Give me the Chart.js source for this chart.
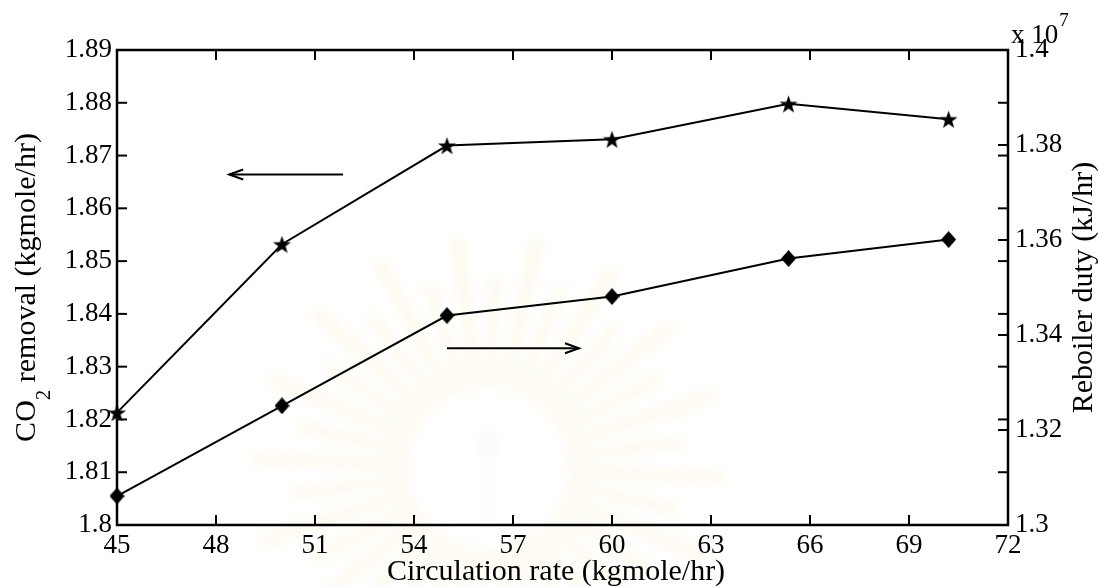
<!DOCTYPE html>
<html>
<head>
<meta charset="utf-8">
<script src="https://cdn.jsdelivr.net/npm/chart.js@4/dist/chart.umd.min.js"></script>
<style>
  html, body { margin: 0; padding: 0; background: #fff; }
  #wrap { width: 1098px; height: 586px; position: relative; }
</style>
</head>
<body>
<div id="wrap"><canvas id="c" width="1098" height="586"></canvas></div>
<script>
// Circulation rate (kgmole/hr)
const circulationRate = [45, 50, 55, 60, 65.35, 70.2];
// CO2 removal (kgmole/hr), left axis
const co2Removal = [1.8213, 1.8532, 1.8719, 1.8731, 1.8798, 1.8769];
// Reboiler duty in units of 10^7 kJ/hr, right axis
const reboilerDuty = [1.3061, 1.3251, 1.3441, 1.3481, 1.3561, 1.3601];

const xTicks = [45, 48, 51, 54, 57, 60, 63, 66, 69, 72];
const leftTicks = [1.8, 1.81, 1.82, 1.83, 1.84, 1.85, 1.86, 1.87, 1.88, 1.89];
const rightTicks = [1.3, 1.32, 1.34, 1.36, 1.38, 1.4];

// Direction arrows pointing at the axis each curve belongs to (data units, left axis)
const arrowToLeft = { from: [51.85, 1.8664], to: [48.4, 1.8664] };
const arrowToRight = { from: [55.0, 1.8335], to: [59.0, 1.8335] };

const SERIF = '"Liberation Serif", "Times New Roman", Times, serif';
Chart.defaults.font.family = SERIF;
Chart.defaults.color = '#000';

// Filled five-pointed star marker
function makeStar(r) {
  const s = Math.ceil(r * 2 + 2);
  const cv = document.createElement('canvas');
  cv.width = s; cv.height = s;
  const g = cv.getContext('2d');
  const c = s / 2, ri = r * 0.4;
  g.beginPath();
  for (let i = 0; i < 10; i++) {
    const rad = i % 2 === 0 ? r : ri;
    const a = -Math.PI / 2 + i * Math.PI / 5;
    const px = c + rad * Math.cos(a), py = c + rad * Math.sin(a) + r * 0.1;
    i === 0 ? g.moveTo(px, py) : g.lineTo(px, py);
  }
  g.closePath();
  g.fillStyle = '#000';
  g.fill();
  return cv;
}

// Filled diamond marker
function makeDiamond(w, h) {
  const cv = document.createElement('canvas');
  cv.width = w; cv.height = h;
  const g = cv.getContext('2d');
  g.beginPath();
  g.moveTo(w / 2, 0); g.lineTo(w, h / 2); g.lineTo(w / 2, h); g.lineTo(0, h / 2);
  g.closePath();
  g.fillStyle = '#000';
  g.fill();
  return cv;
}

const starMarker = makeStar(9.5);
const diamondMarker = makeDiamond(15, 17);

const pts = (xs, ys) => xs.map((x, i) => ({ x, y: ys[i] }));
const fixTicks = arr => scale => { scale.ticks = arr.map(v => ({ value: v })); };
const fmt = v => String(Number(v.toFixed(2)));

// Pale sunburst emblem printed behind the plot
const emblem = {
  id: 'emblem',
  beforeDraw(chart) {
    const ctx = chart.ctx;
    const cx = 488, cy = 468;
    ctx.save();
    ctx.filter = 'blur(6px)';
    const n = 36;
    for (let i = 0; i < n; i++) {
      const a = (i / n) * Math.PI * 2 + 0.04;
      const r0 = 80, r1 = i % 2 === 0 ? 235 : 195;
      const hw = 0.06;
      ctx.beginPath();
      ctx.moveTo(cx + r0 * Math.cos(a - hw), cy + r0 * Math.sin(a - hw));
      ctx.lineTo(cx + r1 * Math.cos(a - hw * 0.45), cy + r1 * Math.sin(a - hw * 0.45));
      ctx.lineTo(cx + r1 * Math.cos(a + hw * 0.45), cy + r1 * Math.sin(a + hw * 0.45));
      ctx.lineTo(cx + r0 * Math.cos(a + hw), cy + r0 * Math.sin(a + hw));
      ctx.closePath();
      ctx.fillStyle = 'rgba(246, 228, 170, 0.22)';
      ctx.fill();
    }
    ctx.fillStyle = 'rgba(215, 205, 185, 0.10)';
    ctx.beginPath(); ctx.arc(cx, cy - 25, 13, 0, Math.PI * 2); ctx.fill();
    ctx.fillRect(cx - 4, cy - 12, 8, 60);
    ctx.restore();
  }
};

// Box frame, inward tick marks, axis titles, arrows
const frame = {
  id: 'frame',
  afterDraw(chart) {
    const { ctx, chartArea: { left, right, top, bottom }, scales } = chart;
    const x = scales.x, y = scales.y, y1 = scales.y1;
    const seg = (a, b, c, d) => { ctx.beginPath(); ctx.moveTo(a, b); ctx.lineTo(c, d); ctx.stroke(); };
    ctx.save();
    ctx.strokeStyle = '#000';
    ctx.lineWidth = 2;
    const tl = 10;
    xTicks.forEach(v => {
      const px = x.getPixelForValue(v);
      seg(px, bottom, px, bottom - tl);
      seg(px, top, px, top + tl);
    });
    leftTicks.forEach(v => {
      const py = y.getPixelForValue(v);
      seg(left, py, left + tl, py);
      seg(right, py, right - tl, py);
    });
    rightTicks.forEach(v => {
      const py = y1.getPixelForValue(v);
      seg(right, py, right - tl, py);
    });
    ctx.lineWidth = 2.5;
    ctx.strokeRect(left, top, right - left, bottom - top);

    // arrows
    ctx.lineWidth = 2;
    const arrow = (a) => {
      const x0 = x.getPixelForValue(a.from[0]), y0 = y.getPixelForValue(a.from[1]);
      const x1 = x.getPixelForValue(a.to[0]), y1p = y.getPixelForValue(a.to[1]);
      seg(x0, y0, x1, y1p);
      const dir = Math.sign(x1 - x0);
      ctx.beginPath();
      ctx.moveTo(x1 - dir * 14, y1p - 5);
      ctx.lineTo(x1, y1p);
      ctx.lineTo(x1 - dir * 14, y1p + 5);
      ctx.stroke();
    };
    arrow(arrowToLeft);
    arrow(arrowToRight);

    // axis titles
    ctx.fillStyle = '#000';
    const big = '30px ' + SERIF, small = '21px ' + SERIF;
    ctx.textBaseline = 'alphabetic';

    ctx.font = big;
    ctx.textAlign = 'center';
    ctx.fillText('Circulation rate (kgmole/hr)', 556, 580);

    // left title with subscript
    const midY = (top + bottom) / 2;
    ctx.save();
    ctx.translate(35, midY);
    ctx.rotate(-Math.PI / 2);
    ctx.textAlign = 'left';
    ctx.font = big; const w1 = ctx.measureText('CO').width;
    ctx.font = small; const w2 = ctx.measureText('2').width;
    ctx.font = big; const w3 = ctx.measureText(' removal (kgmole/hr)').width;
    let sx = -(w1 + w2 + w3) / 2;
    ctx.font = big; ctx.fillText('CO', sx, 0);
    ctx.font = small; ctx.fillText('2', sx + w1, 15);
    ctx.font = big; ctx.fillText(' removal (kgmole/hr)', sx + w1 + w2, 0);
    ctx.restore();

    // right title
    ctx.save();
    ctx.translate(1092, midY);
    ctx.rotate(-Math.PI / 2);
    ctx.textAlign = 'center';
    ctx.font = big;
    ctx.fillText('Reboiler duty (kJ/hr)', 0, 0);
    ctx.restore();

    // exponent of right axis
    ctx.textAlign = 'left';
    ctx.font = '27px ' + SERIF;
    ctx.fillText('x 10', 1011, 43);
    const wx = ctx.measureText('x 10').width;
    ctx.font = '19px ' + SERIF;
    ctx.fillText('7', 1011 + wx + 1, 26);
    ctx.restore();
  }
};

new Chart(document.getElementById('c'), {
  type: 'scatter',
  data: {
    datasets: [
      {
        label: 'CO2 removal',
        data: pts(circulationRate, co2Removal),
        yAxisID: 'y',
        showLine: true,
        borderColor: '#000',
        borderWidth: 2,
        tension: 0,
        pointStyle: starMarker,
        pointRadius: 9,
        clip: false
      },
      {
        label: 'Reboiler duty',
        data: pts(circulationRate, reboilerDuty),
        yAxisID: 'y1',
        showLine: true,
        borderColor: '#000',
        borderWidth: 2,
        tension: 0,
        pointStyle: diamondMarker,
        pointRadius: 8,
        clip: false
      }
    ]
  },
  options: {
    responsive: false,
    animation: false,
    devicePixelRatio: 1,
    layout: { padding: { top: 50, left: 0, right: 0, bottom: 0 } },
    plugins: { legend: { display: false }, tooltip: { enabled: false } },
    scales: {
      x: {
        type: 'linear',
        min: 45, max: 72,
        grid: { display: false, drawTicks: false },
        border: { display: false },
        afterBuildTicks: fixTicks(xTicks),
        afterFit: s => { s.height = 61; },
        ticks: { font: { size: 27 }, padding: 5, maxRotation: 0, autoSkip: false, callback: v => String(v) }
      },
      y: {
        type: 'linear',
        position: 'left',
        min: 1.8, max: 1.89,
        grid: { display: false, drawTicks: false },
        border: { display: false },
        afterBuildTicks: fixTicks(leftTicks),
        afterFit: s => { s.width = 117; },
        ticks: { font: { size: 27 }, padding: 5, autoSkip: false, callback: v => fmt(v) }
      },
      y1: {
        type: 'linear',
        position: 'right',
        min: 1.3, max: 1.4,
        grid: { display: false, drawTicks: false },
        border: { display: false },
        afterBuildTicks: fixTicks(rightTicks),
        afterFit: s => { s.width = 90; },
        ticks: { font: { size: 27 }, padding: 7, autoSkip: false, callback: v => fmt(v) }
      }
    }
  },
  plugins: [emblem, frame]
});
</script>
</body>
</html>
